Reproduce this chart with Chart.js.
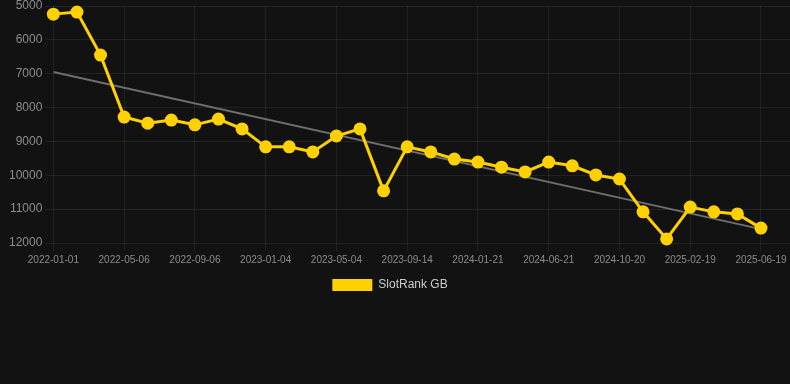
<!DOCTYPE html>
<html>
<head>
<meta charset="utf-8">
<script src="https://cdn.jsdelivr.net/npm/chart.js@4.4.1/dist/chart.umd.min.js"></script>
<style>
  html, body { margin: 0; padding: 0; background: #121212; }
  #wrap { width: 790px; height: 301px; position: relative; }
</style>
</head>
<body>
<div id="wrap"><canvas id="myChart"></canvas></div>
<script>
const dates = [
  '2022-01-01', '2022-02-11', '2022-03-24', '2022-05-06', '2022-06-15', '2022-07-26',
  '2022-09-06', '2022-10-16', '2022-11-25', '2023-01-04', '2023-02-13', '2023-03-25',
  '2023-05-04', '2023-06-17', '2023-07-31', '2023-09-14', '2023-10-26', '2023-12-09',
  '2024-01-21', '2024-03-01', '2024-05-11', '2024-06-21', '2024-07-31', '2024-09-09',
  '2024-10-20', '2024-11-29', '2025-01-09', '2025-02-19', '2025-03-31', '2025-05-10',
  '2025-06-19',
];

/* rank values, smaller is better (axis reversed) */
const rank = [
  5240, 5180, 6450, 8280, 8460, 8370, 8510, 8340, 8630, 9160,
  9160, 9310, 8840, 8630, 10460, 9160, 9310, 9520, 9610, 9760,
  9900, 9610, 9720, 9990, 10110, 11080, 11880, 10940, 11080, 11140,
  11560,
];

/* trend line, only its two ends */
const trendStart = 6950;
const trendEnd = 11590;

const yTicks = [5000, 6000, 7000, 8000, 9000, 10000, 11000, 12000];
const labelEvery = 3;

const YELLOW = '#FFD100';
const GRID = 'rgba(255,255,255,0.07)';
const TEXT = '#8c8c8c';
const FONT = "'Liberation Sans', Arial, sans-serif";

const data = {
  datasets: [{
    label: 'SlotRank GB',
    backgroundColor: YELLOW,
    borderColor: YELLOW,
    borderWidth: 3,
    pointRadius: 5,
    pointHoverRadius: 6,
    pointBackgroundColor: YELLOW,
    pointBorderColor: YELLOW,
    tension: 0,
    clip: false,
    data: rank.map((v, i) => ({ x: i, y: v })),
    order: 1,
  }, {
    label: 'trend',
    borderColor: '#6e6e6e',
    borderWidth: 2,
    pointRadius: 0,
    pointHoverRadius: 0,
    data: [{ x: 0, y: trendStart }, { x: dates.length - 1, y: trendEnd }],
    order: 2,
  }]
};

// legend sits a bit left of center in the original
const shiftLegend = {
  id: 'shiftLegend',
  afterLayout(chart) {
    chart.legend.left -= 8;
    chart.legend.right -= 8;
  }
};

const config = {
  type: 'line',
  data: data,
  plugins: [shiftLegend],
  options: {
    responsive: true,
    maintainAspectRatio: false,
    animation: false,
    layout: { autoPadding: false, padding: { left: 6 } },
    scales: {
      x: {
        type: 'linear',
        min: 0,
        max: dates.length - 1 + 1.23,
        afterBuildTicks(scale) {
          const t = [];
          for (let i = 0; i < dates.length; i += labelEvery) t.push({ value: i });
          scale.ticks = t;
        },
        afterFit(scale) {
          scale.paddingRight = 0;
        },
        ticks: {
          color: TEXT,
          font: { family: FONT, size: 10 },
          maxRotation: 0,
          autoSkip: false,
          callback: (v) => dates[v],
        },
        grid: { color: GRID, tickLength: 8 },
        border: { display: false },
      },
      y: {
        reverse: true,
        min: 5000,
        max: 12000,
        afterBuildTicks(scale) {
          scale.ticks = yTicks.map(v => ({ value: v }));
        },
        afterFit(scale) {
          scale.paddingTop = 6;
        },
        ticks: {
          color: TEXT,
          font: { family: FONT, size: 12 },
          callback: (v) => String(v),
        },
        grid: { color: GRID },
        border: { display: false },
      }
    },
    plugins: {
      legend: {
        display: true,
        position: 'bottom',
        labels: {
          color: '#cccccc',
          boxWidth: 40,
          boxHeight: 12,
          padding: 10,
          font: { family: FONT, size: 12 },
          generateLabels(chart) {
            return Chart.defaults.plugins.legend.labels.generateLabels(chart)
              .filter(item => item.text !== 'trend')
              .map(item => Object.assign(item, { lineWidth: 0 }));
          },
        }
      },
      tooltip: { enabled: false },
    }
  }
};

const myChart = new Chart(document.getElementById('myChart'), config);
</script>
</body>
</html>
